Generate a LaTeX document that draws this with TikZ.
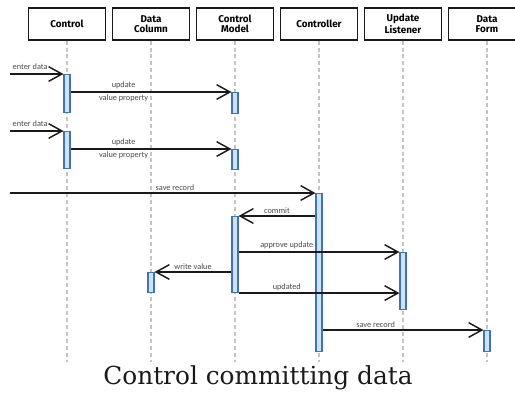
\documentclass[tikz,border=0pt]{standalone}
\usepackage{fontspec}
\setmainfont{DejaVu Serif}
\newfontfamily\headfont{Fira Sans}
\newfontfamily\msgfont{Carlito}
\usetikzlibrary{arrows.meta,positioning,calc}
\definecolor{ink}{HTML}{1A1A1A}
\definecolor{lifegray}{HTML}{C4C4C4}
\definecolor{barfill}{HTML}{CFE2F5}
\definecolor{barline}{HTML}{3F74B3}
\definecolor{labelgray}{HTML}{4A4A4A}
\tikzset{head/.style={draw=ink,line width=.9pt,fill=white,minimum width=57.75pt,minimum height=24pt,
    inner sep=1pt,align=center,font=\headfont\bfseries\fontsize{7.4}{7.6}\selectfont},
  life/.style={draw=lifegray,line width=1.6pt,dash pattern=on 3pt off 2.2pt},
  act/.style={draw=barline,fill=barfill,line width=.8pt,minimum width=4.5pt,inner sep=0pt,anchor=north},
  msg/.style={draw=ink,line width=1.1pt,-{Straight Barb[length=10pt,width=11pt,line width=1.1pt]}},
  lbl/.style={text=labelgray,font=\msgfont\fontsize{6.2}{7}\selectfont,inner sep=1.5pt}}

\begin{document}
\begin{tikzpicture}[x=.75pt,y=-.75pt]
\useasboundingbox (0,0) rectangle (515,393);
% lifelines
\foreach \x/\name/\txt in {67/ctl/Control,151/col/{Data\\Column},235/mdl/{Control\\Model},
  319/ctr/Controller,403/lst/{Update\\Listener},487/frm/{Data\\Form}}{
 \node[head] (\name) at (\x,24) {\txt};
 \draw[life] (\name.south) -- (\x,362);
}
% activation bars
\node[act,minimum height=28.5pt] (ca1) at (67,74) {};
\node[act,minimum height=15.75pt] (ma1) at (235,92) {};
\node[act,minimum height=27.75pt] (ca2) at (67,131) {};
\node[act,minimum height=15pt] (ma2) at (235,149) {};
\node[act,minimum height=118.5pt] (cr) at (319,193) {};
\node[act,minimum height=57pt] (mb) at (235,216) {};
\node[act,minimum height=42.75pt] (ul) at (403,252) {};
\node[act,minimum height=15pt] (db) at (151,272) {};
\node[act,minimum height=15.75pt] (df) at (487,330) {};
% messages
\coordinate (in1) at (10,74);
\coordinate (in2) at (10,131);
\coordinate (in3) at (10,193);
\draw[msg] (in1) -- (ca1.north west) node[lbl,pos=0,anchor=south west,yshift=1pt] {enter data};
\draw[msg] (ca1.east |- ma1.north) -- (ma1.north west)
  node[lbl,pos=.33,above] {update} node[lbl,pos=.33,below] {value property};
\draw[msg] (in2) -- (ca2.north west) node[lbl,pos=0,anchor=south west,yshift=1pt] {enter data};
\draw[msg] (ca2.east |- ma2.north) -- (ma2.north west)
  node[lbl,pos=.33,above] {update} node[lbl,pos=.33,below] {value property};
\draw[msg] (in3) -- (cr.north west) node[lbl,pos=.54,above] {save record};
\draw[msg] (cr.west |- mb.north) -- (mb.north east) node[lbl,midway,above] {commit};
\draw[msg] (mb.east |- ul.north) -- (ul.north west) node[lbl,pos=.3,above] {approve update};
\draw[msg] (mb.west |- db.north) -- (db.north east) node[lbl,midway,above] {write value};
\draw[msg] (mb.south east) -- (ul.west |- mb.south) node[lbl,pos=.3,above] {updated};
\draw[msg] (cr.east |- df.north) -- (df.north west) node[lbl,pos=.33,above] {save record};
% caption
\node[font=\fontsize{18.6}{20}\selectfont,text=ink] (cap) at (258,378) {Control committing data};
\end{tikzpicture}
\end{document}
